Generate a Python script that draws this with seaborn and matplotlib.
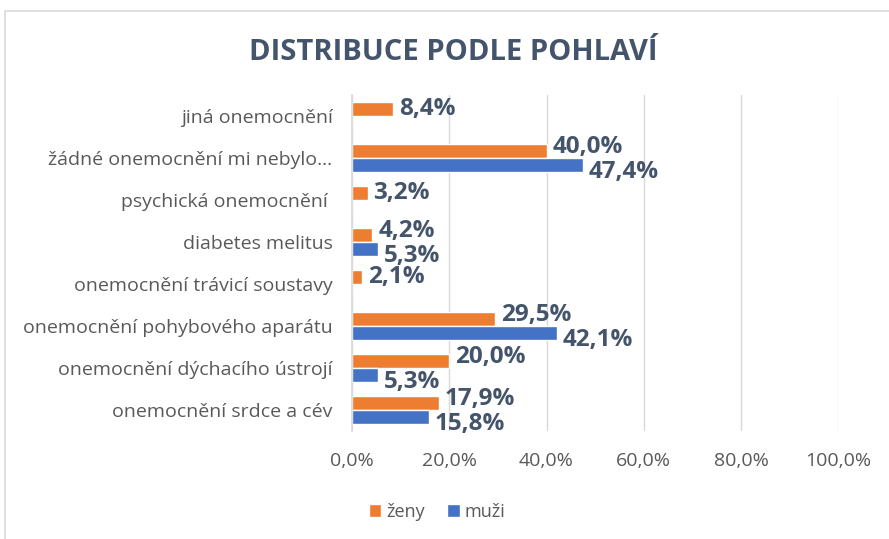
import pandas as pd
import matplotlib.pyplot as plt
import seaborn as sns
from matplotlib.patches import Rectangle

# ----------------------
# Data
# ----------------------
categories = [
    "jiná onemocnění",
    "žádné onemocnění mi nebylo...",
    "psychická onemocnění ",
    "diabetes melitus",
    "onemocnění trávicí soustavy",
    "onemocnění pohybového aparátu",
    "onemocnění dýchacího ústrojí",
    "onemocnění srdce a cév",
]
zeny = [8.4, 40.0, 3.2, 4.2, 2.1, 29.5, 20.0, 17.9]
muzi = [0.0, 47.4, 0.0, 5.3, 0.0, 42.1, 5.3, 15.8]
series = ["ženy", "muži"]
x_ticks = [0, 20, 40, 60, 80, 100]

colors = {"ženy": "#ED7D31", "muži": "#4472C4"}
title_color = "#44546A"
text_color = "#595959"
font = ["Open Sans", "DejaVu Sans"]

df = pd.DataFrame({
    "kategorie": categories * 2,
    "pohlaví": ["ženy"] * len(categories) + ["muži"] * len(categories),
    "hodnota": zeny + muzi,
})

sns.set_theme(style="white")
plt.rcParams["font.family"] = font

fig = plt.figure(figsize=(8.89, 5.39), dpi=100)
ax = fig.add_axes([0.396, 0.200, 0.547, 0.624])

sns.barplot(data=df, y="kategorie", x="hodnota", hue="pohlaví",
            hue_order=series, order=categories, palette=colors,
            saturation=1, orient="h", width=0.66, ax=ax, legend=True)

ax.set_xlim(0, 100)
ax.set_xticks(x_ticks)
ax.set_xticklabels([f"{t:.1f}%".replace(".", ",") for t in x_ticks])
ax.set_xlabel("")
ax.set_ylabel("")
ax.grid(axis="x", color="#D9D9D9", linewidth=1)
ax.set_axisbelow(True)
for side in ["top", "right", "bottom"]:
    ax.spines[side].set_visible(False)
ax.spines["left"].set_color("#D9D9D9")
ax.tick_params(axis="x", length=0, pad=15, labelsize=14, labelcolor=text_color)
ax.tick_params(axis="y", length=0, pad=14, labelsize=14, labelcolor=text_color)

# data labels (hidden for zero values), nudged apart when both bars exist
for i, cat in enumerate(categories):
    both = zeny[i] > 0 and muzi[i] > 0
    for j, vals in enumerate([zeny, muzi]):
        v = vals[i]
        if v <= 0:
            continue
        if both:
            y = i + (-0.27 if j == 0 else 0.33)
        else:
            y = i - 0.165
        ax.text(v + 1.2, y, f"{v:.1f}%".replace(".", ","), va="center", ha="left",
                fontsize=17.5, fontweight="bold", color=title_color)

ax.legend(loc="upper center", bbox_to_anchor=(0.175, -0.165), ncol=2, frameon=False,
          fontsize=13, labelcolor=text_color, handlelength=0.7, handleheight=0.7,
          handletextpad=0.3, columnspacing=1.2)

fig.text(0.51, 0.903, "DISTRIBUCE PODLE POHLAVÍ", ha="center", va="center",
         fontsize=21, fontweight="bold", color=title_color)

fig.patches.append(Rectangle((0.006, -0.01), 1.0, 0.99, transform=fig.transFigure,
                             fill=False, edgecolor="#D9D9D9", linewidth=1.2))

fig.savefig("out.png", dpi=100)
